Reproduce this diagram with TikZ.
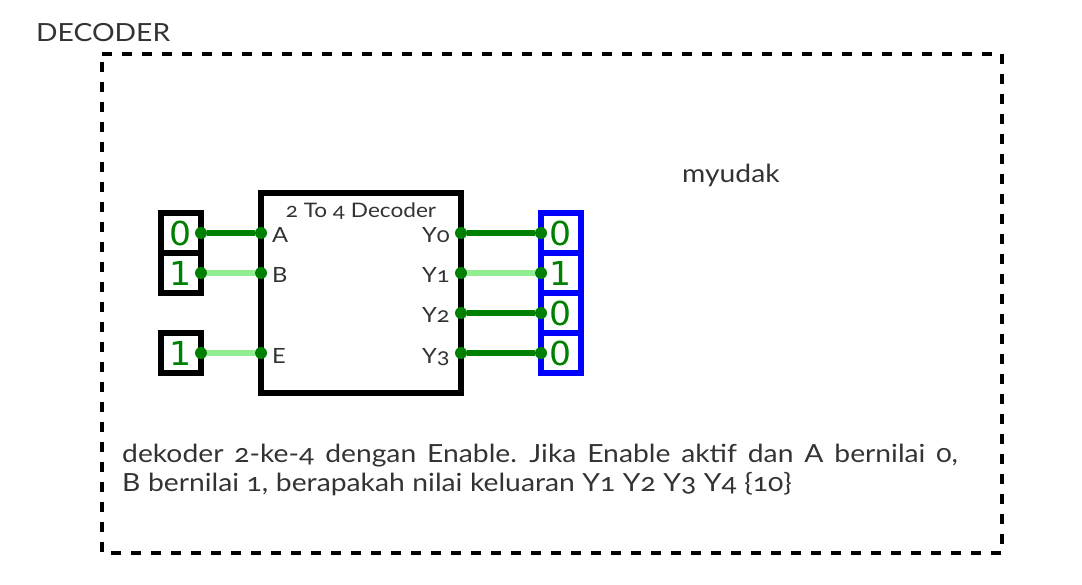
\documentclass[tikz,border=0pt]{standalone}
\usepackage{fontspec}
\setmainfont[Numbers=OldStyle,FakeStretch=1.13]{Lato}
\newfontfamily\digitfont[FakeStretch=1.05]{DejaVu Sans}
\definecolor{wireoff}{HTML}{008000}
\definecolor{wireon}{HTML}{90EE90}
\tikzset{
    pin/.style={circle,fill=wireoff,inner sep=0pt,outer sep=0pt,minimum size=12pt},
    wire/.style={line width=6pt},
    cell/.style={draw,line width=6pt,outer sep=0pt,minimum width=40pt,minimum height=40pt,inner sep=0pt},
    digit/.style={text=wireoff,font=\digitfont\fontsize{33}{33}\selectfont,inner sep=0pt},
    lbl/.style={inner sep=0pt,text=black!80,font=\fontsize{21}{21}\selectfont},
    big/.style={inner sep=0pt,text=black!80,font=\fontsize{25}{29}\selectfont}
}
\begin{document}
\begin{tikzpicture}[x=1pt,y=-1pt]
    \useasboundingbox (0,0) rectangle (1082,585);

    \draw[line width=4pt,dash pattern=on 10pt off 10pt] (102,54) -- (1002,54) -- (1002,553) -- (102,553) -- cycle;
    \node[big,anchor=base west] (title) at (36,42) {DECODER};
    \node[big,anchor=base west] (author) at (682,183) {myudak};

    \node[draw,line width=6pt,outer sep=0pt,minimum width=200pt,minimum height=200pt,inner sep=0pt] (dec) at (361,293) {};
    \node[lbl,font=\fontsize{20}{20}\selectfont,anchor=base] (dectitle) at (361,218) {2 To 4 Decoder};

    % input and output cells
    \foreach \name/\y/\val in {inA/233/0,inB/273/1,inE/353/1} {
        \node[cell] (\name) at (181,\y) {};
        \node[digit] at (181,\y) {\val};
        \node[pin] (\name pin) at (201,\y) {};
    }
    \foreach \name/\y/\val in {outA/233/0,outB/273/1,outC/313/0,outD/353/0} {
        \node[cell,draw=blue] (\name) at (561,\y) {};
        \node[digit] at (561,\y) {\val};
        \node[pin] (\name pin) at (541,\y) {};
    }

    % pins on the decoder
    \foreach \name/\y/\txt in {A/233/A,B/273/B,E/353/E} {
        \node[pin] (dec\name) at (261,\y) {};
        \node[lbl,anchor=base west] at (272,\y+10) {\txt};
    }
    \foreach \name/\y/\txt in {P/233/Y0,Q/273/Y1,R/313/Y2,S/353/Y3} {
        \node[pin] (dec\name) at (461,\y) {};
        \node[lbl,anchor=base east] at (450,\y+10) {\txt};
    }

    % wires
    \foreach \a/\b/\col in {inApin/decA/wireoff,inBpin/decB/wireon,inEpin/decE/wireon,
            decP/outApin/wireoff,decQ/outBpin/wireon,decR/outCpin/wireoff,decS/outDpin/wireoff}
        \draw[wire,color=\col] (\a) -- (\b);

    \node[big,anchor=base west,align=left,text width=880pt] (question) at (122,462)
        {\spaceskip=10.9pt dekoder 2-ke-4 dengan Enable. Jika Enable aktif dan A bernilai 0,\\
        \spaceskip=7.6pt B bernilai 1, berapakah nilai keluaran Y1 Y2 Y3 Y4 \{10\}};
\end{tikzpicture}
\end{document}
